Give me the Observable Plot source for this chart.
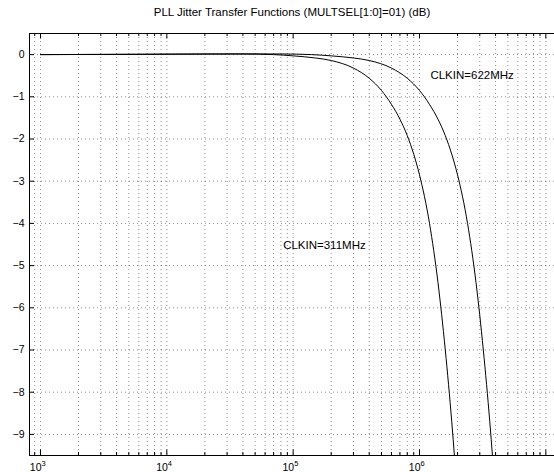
<!DOCTYPE html>
<html><head><meta charset="utf-8">
<script src="https://cdn.jsdelivr.net/npm/d3@7"></script>
<script src="https://cdn.jsdelivr.net/npm/@observablehq/plot@0.6"></script>
<style>body{margin:0;background:#fff} svg{display:block}</style>
</head><body><div id="chart"></div>
<script>
const title = "PLL Jitter Transfer Functions (MULTSEL[1:0]=01) (dB)";

// CLKIN = 311 MHz curve (frequency Hz, dB)
const freq311 = [1e3, 1e4, 2e4, 4e4, 7e4, 1e5, 1.5e5, 2e5, 3e5, 4e5, 5e5, 6e5, 7e5, 8e5, 9e5, 1.0e6, 1.2e6, 1.4e6, 1.6e6, 1.8e6, 2.0e6, 2.2e6];
const db311   = [0, 0.01, 0.015, 0.015, 0.0, -0.03, -0.08, -0.14, -0.32, -0.56, -0.85, -1.18, -1.53, -1.92, -2.36, -2.85, -4.0, -5.4, -7.0, -8.7, -10.5, -12.3];

// CLKIN = 622 MHz curve
const freq622 = [1e3, 1e4, 4e4, 8e4, 1.4e5, 2e5, 3e5, 4e5, 6e5, 8e5, 1e6, 1.2e6, 1.4e6, 1.6e6, 1.8e6, 2.0e6, 2.4e6, 2.8e6, 3.2e6, 3.6e6, 4.0e6, 4.4e6];
const db622   = [0, 0.01, 0.015, 0.015, 0.0, -0.03, -0.08, -0.14, -0.32, -0.56, -0.85, -1.18, -1.53, -1.92, -2.36, -2.85, -4.0, -5.4, -7.0, -8.7, -10.5, -12.3];

const xMajor = [1e3, 1e4, 1e5, 1e6];
const xExp = ["3", "4", "5", "6"];
const yTicks = [0, -1, -2, -3, -4, -5, -6, -7, -8, -9];
const yLabels = ["0", "−1", "−2", "−3", "−4", "−5", "−6", "−7", "−8", "−9"];

const annoText = ["CLKIN=622MHz", "CLKIN=311MHz"];
const annoF = [1.22e6, 8.33e4];
const annoDb = [-0.5, -4.53];

const xDomain = [818.4, 1.171e7];
const yDomain = [-9.5, 0.5];

// minor grid positions (2..9 per decade)
const xMinor = [];
for (let d = 1e2; d <= 1e7; d *= 10) for (let k = 2; k <= 9; k++) {
  const v = d * k; if (v > xDomain[0] && v < xDomain[1]) xMinor.push(v);
}
const xMajorAll = xMajor.concat([1e7]);
const xAllGrid = xMinor.concat(xMajorAll);

const s311 = freq311.map((f, i) => ({f, db: db311[i]}));
const s622 = freq622.map((f, i) => ({f, db: db622[i]}));
const annos = annoText.map((t, i) => ({t, f: annoF[i], db: annoDb[i]}));

const font = "Liberation Sans, Arial, Helvetica, sans-serif";
const gridStyle = {stroke: "#000", strokeOpacity: 0.45, strokeDasharray: "1,3", strokeWidth: 1};
const tickEnd = xDomain[0] * Math.pow(10, 5 / 126.3);

const chart = Plot.plot({
  width: 554, height: 472,
  marginLeft: 29, marginRight: 0, marginTop: 33, marginBottom: 17,
  style: {fontFamily: font, fontSize: "10px", background: "#fff", color: "#000"},
  x: {type: "log", domain: xDomain, axis: null},
  y: {domain: yDomain, axis: null},
  marks: [
    // grid
    Plot.ruleX(xAllGrid, {x: d => d, ...gridStyle}),
    Plot.ruleY(yTicks, {y: d => d, ...gridStyle}),
    // curves
    Plot.line(s311, {x: "f", y: "db", stroke: "#000", strokeWidth: 1, clip: true, curve: "monotone-x"}),
    Plot.line(s622, {x: "f", y: "db", stroke: "#000", strokeWidth: 1, clip: true, curve: "monotone-x"}),
    // frame (left, top, bottom)
    Plot.ruleX([xDomain[0]], {x: d => d, stroke: "#000", strokeWidth: 1}),
    Plot.ruleY([yDomain[0], yDomain[1]], {y: d => d, stroke: "#000", strokeWidth: 1}),
    // x ticks (inward) bottom and top
    Plot.ruleX(xMajorAll, {x: d => d, y1: yDomain[0], y2: yDomain[0] + 0.13, stroke: "#000"}),
    Plot.ruleX(xMajorAll, {x: d => d, y1: yDomain[1], y2: yDomain[1] - 0.13, stroke: "#000"}),
    Plot.ruleX(xMinor, {x: d => d, y1: yDomain[0], y2: yDomain[0] + 0.07, stroke: "#000"}),
    Plot.ruleX(xMinor, {x: d => d, y1: yDomain[1], y2: yDomain[1] - 0.07, stroke: "#000"}),
    // y ticks (inward)
    Plot.ruleY(yTicks, {y: d => d, x1: xDomain[0], x2: tickEnd, stroke: "#000"}),
    // y tick labels
    Plot.text(yTicks, {y: d => d, frameAnchor: "left", text: (d, i) => yLabels[i], textAnchor: "end", dx: -5, fontSize: 10.5}),
    // x tick labels
    Plot.text(xMajor, {x: d => d, frameAnchor: "bottom", text: () => "10", textAnchor: "end", dy: 15, dx: 1, fontSize: 10.5}),
    Plot.text(xMajor, {x: d => d, frameAnchor: "bottom", text: (d, i) => xExp[i], textAnchor: "start", dy: 10, dx: 1, fontSize: 7.5}),
    // title
    Plot.text([title], {frameAnchor: "top", text: d => d, dy: -26, fontSize: 11.5}),
    // annotations
    Plot.text(annos, {x: "f", y: "db", text: "t", textAnchor: "start", fontSize: 11.5})
  ]
});
document.getElementById("chart").appendChild(chart);
</script>
</body></html>
